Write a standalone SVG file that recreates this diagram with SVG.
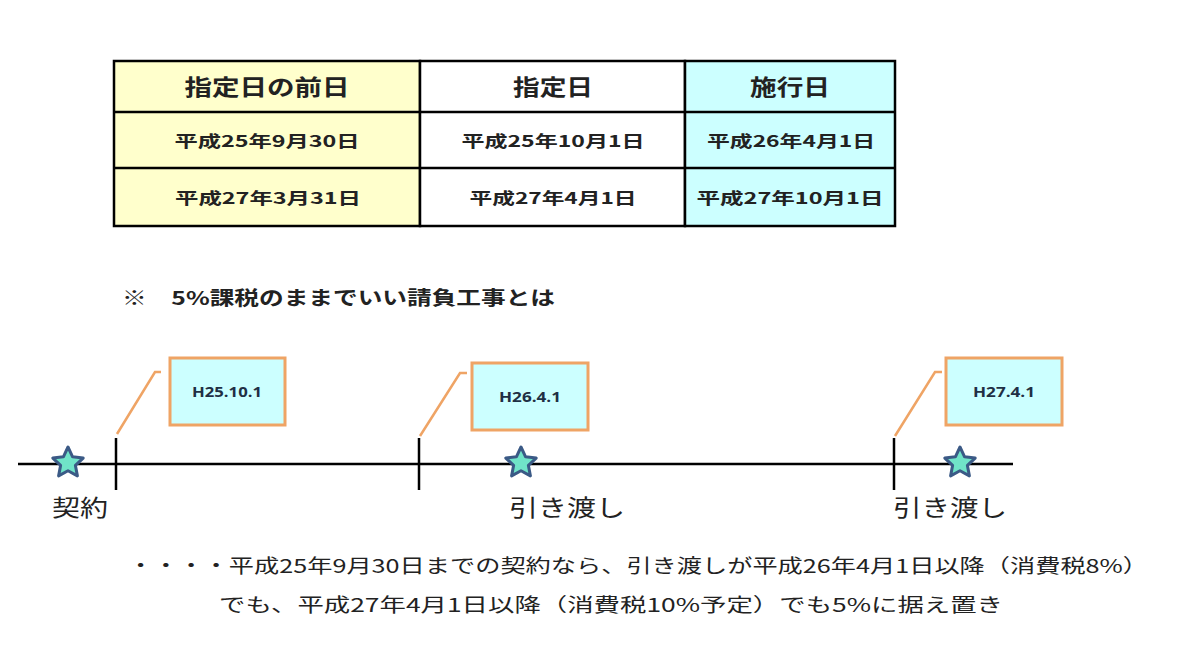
<svg xmlns="http://www.w3.org/2000/svg" width="1200" height="666" viewBox="0 0 1200 666">
<style>
.cell{stroke:#000;stroke-width:2.5}
.jp{font-family:"Noto Sans CJK JP","Liberation Sans",sans-serif;fill:#222}
.hd{font-size:22px;font-weight:bold;text-anchor:middle}
.dt{font-size:16px;font-weight:bold;text-anchor:middle}
.lbl{font-size:23px;text-anchor:middle}
.body{font-size:19px}
.box{fill:#CCFFFF;stroke:#EFA465;stroke-width:3}
.lead{fill:none;stroke:#EFA465;stroke-width:2.5}
.bt{font-family:"Open Sans","Liberation Sans",sans-serif;font-size:15px;font-weight:bold;fill:#1F2F44;text-anchor:middle}
.axis{stroke:#000;stroke-width:2.5}
.star{fill:#70E4C8;stroke:#3B5A86;stroke-width:3;stroke-linejoin:round}
</style>
<defs>
<polygon id="star" class="star" points="0,-16 4.6,-6.2 15.2,-4.9 7.4,2.4 9.4,12.9 0,7.8 -9.4,12.9 -7.4,2.4 -15.2,-4.9 -4.6,-6.2"/>
</defs>
<rect width="1200" height="666" fill="#fff"/>
<g id="table">
<rect class="cell" x="114" y="61" width="306" height="165" fill="#FFFFCC"/>
<rect class="cell" x="420" y="61" width="265" height="165" fill="#FFFFFF"/>
<rect class="cell" x="685" y="61" width="210" height="165" fill="#CCFFFF"/>
<line class="cell" x1="114" y1="112" x2="895" y2="112"/>
<line class="cell" x1="114" y1="168" x2="895" y2="168"/>
<text class="jp hd" x="267" y="95" textLength="165" lengthAdjust="spacingAndGlyphs">指定日の前日</text>
<text class="jp hd" x="553" y="95" textLength="80" lengthAdjust="spacingAndGlyphs">指定日</text>
<text class="jp hd" x="790" y="95" textLength="80" lengthAdjust="spacingAndGlyphs">施行日</text>
<text class="jp dt" x="267" y="147" textLength="185" lengthAdjust="spacingAndGlyphs">平成25年9月30日</text>
<text class="jp dt" x="553" y="147" textLength="183" lengthAdjust="spacingAndGlyphs">平成25年10月1日</text>
<text class="jp dt" x="791" y="147" textLength="168" lengthAdjust="spacingAndGlyphs">平成26年4月1日</text>
<text class="jp dt" x="268" y="204" textLength="186" lengthAdjust="spacingAndGlyphs">平成27年3月31日</text>
<text class="jp dt" x="553" y="204" textLength="167" lengthAdjust="spacingAndGlyphs">平成27年4月1日</text>
<text class="jp dt" x="790" y="204" textLength="187" lengthAdjust="spacingAndGlyphs">平成27年10月1日</text>
</g>
<g id="note">
<text class="jp body" x="122" y="305" textLength="433" lengthAdjust="spacingAndGlyphs" font-weight="bold">※　5%課税のままでいい請負工事とは</text>
</g>
<g id="timeline">
<line class="axis" x1="18" y1="464" x2="1013" y2="464"/>
<line class="axis" x1="116" y1="438" x2="116" y2="490"/>
<line class="axis" x1="419" y1="438" x2="419" y2="490"/>
<line class="axis" x1="894" y1="438" x2="894" y2="490"/>
</g>
<g id="connectors">
<polyline class="lead" points="117,434 155,372 161,372"/>
<polyline class="lead" points="420,436 460,373 467,373"/>
<polyline class="lead" points="895,436 935,372 942,372"/>
</g>
<g id="callout1">
<rect class="box" x="170" y="358" width="115" height="67"/>
<text class="bt" x="227" y="397" textLength="70" lengthAdjust="spacingAndGlyphs">H25.10.1</text>
</g>
<g id="callout2">
<rect class="box" x="472" y="363" width="116" height="67"/>
<text class="bt" x="530" y="402" textLength="62" lengthAdjust="spacingAndGlyphs">H26.4.1</text>
</g>
<g id="callout3">
<rect class="box" x="946" y="358" width="116" height="67"/>
<text class="bt" x="1004" y="397" textLength="62" lengthAdjust="spacingAndGlyphs">H27.4.1</text>
</g>
<g id="contract">
<use href="#star" x="68" y="463"/>
<text class="jp lbl" x="80" y="516" textLength="56" lengthAdjust="spacingAndGlyphs">契約</text>
</g>
<g id="delivery1">
<use href="#star" x="521" y="463"/>
<text class="jp lbl" x="567" y="516" textLength="116" lengthAdjust="spacingAndGlyphs">引き渡し</text>
</g>
<g id="delivery2">
<use href="#star" x="960" y="463"/>
<text class="jp lbl" x="950" y="516" textLength="114" lengthAdjust="spacingAndGlyphs">引き渡し</text>
</g>
<g id="explanation">
<text class="jp body" x="128" y="573" textLength="1020" lengthAdjust="spacingAndGlyphs">・・・・平成25年9月30日までの契約なら、引き渡しが平成26年4月1日以降（消費税8%）</text>
<text class="jp body" x="219" y="612" textLength="784" lengthAdjust="spacingAndGlyphs">でも、平成27年4月1日以降（消費税10%予定）でも5%に据え置き</text>
</g>
</svg>
